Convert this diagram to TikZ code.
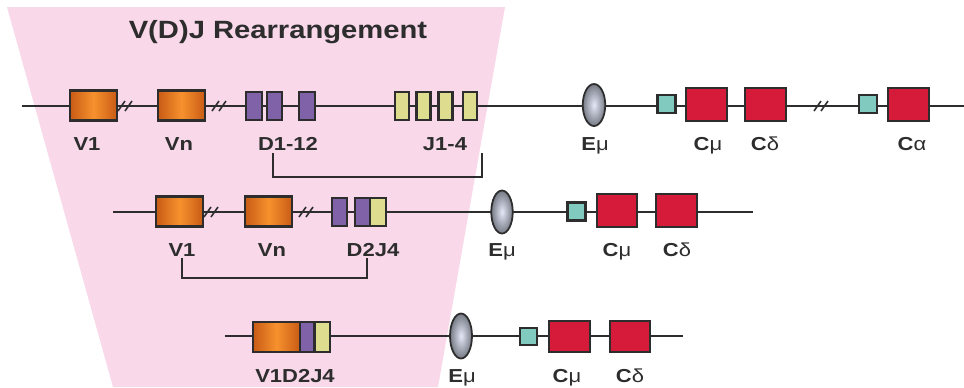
\documentclass[tikz,border=0pt]{standalone}
\usepackage{fontspec}
\setmainfont{Liberation Sans}[FakeStretch=1.17]
\usetikzlibrary{shapes.geometric}

\definecolor{pinkbg}{RGB}{248,216,233}
\definecolor{linecol}{RGB}{45,45,45}
\definecolor{orangeA}{RGB}{247,145,45}
\definecolor{orangeB}{RGB}{200,92,22}
\definecolor{dpurple}{RGB}{128,98,168}
\definecolor{jyellow}{RGB}{222,220,142}
\definecolor{cred}{RGB}{214,26,58}
\definecolor{steal}{RGB}{128,202,192}
\definecolor{enhin}{RGB}{228,232,248}
\definecolor{enhout}{RGB}{118,122,132}

\begin{document}
\begin{tikzpicture}[x=0.02cm, y=-0.02cm,
	dna/.style={linecol, line width=1pt},
	brk/.style={linecol, line width=0.9pt},
	seg/.style={draw=linecol, line width=1.3pt, inner sep=0pt, minimum height=0.6cm},
	vseg/.style={seg, minimum width=0.93cm, left color=orangeB, right color=orangeB, middle color=orangeA},
	dseg/.style={seg, fill=dpurple, minimum width=0.31cm, minimum height=0.57cm},
	jseg/.style={seg, fill=jyellow, minimum width=0.28cm, minimum height=0.57cm},
	cseg/.style={seg, fill=cred, minimum width=0.81cm, minimum height=0.65cm},
	sw/.style={seg, fill=steal, minimum size=0.36cm},
	enh/.style={ellipse, draw=linecol, line width=1pt, inner sep=0pt, minimum width=0.45cm, minimum height=0.84cm, inner color=enhin, outer color=enhout},
	lbl/.style={anchor=base, inner sep=0pt, text=linecol, font=\fontsize{10.7}{12}\selectfont\bfseries},
	bracket/.style={linecol, line width=1pt}]
	\useasboundingbox (0,0) rectangle (964,387);

	% Background
	\fill[pinkbg] (7,7) -- (505,7) -- (438,387) -- (113,387) -- cycle;
	\node[anchor=base, inner sep=0pt, text=linecol, font=\fontsize{14.2}{16}\selectfont\bfseries] (title) at (278,38) {V(D)J Rearrangement};

	% Germline locus
	\coordinate (r1a) at (22,106);
	\coordinate (r1b) at (964,106);
	\draw[dna] (r1a) -- (r1b);
	\foreach \x in {126,220,822} {
		\draw[brk] (\x-8,111) -- ++(7,-10);
		\draw[brk] (\x-1,111) -- ++(7,-10);
	}
	\node[vseg] (v1a) at (93.5,105.5) {};
	\node[vseg] (vna) at (181.5,105.5) {};
	\foreach \x [count=\i] in {254,274.5,307}
		\node[dseg] (d\i a) at (\x,106) {};
	\foreach \x [count=\i] in {402,423.5,445.5,470}
		\node[jseg] (j\i a) at (\x,106) {};
	\node[enh] (ema) at (594,105) {};
	\node[sw] (swa) at (666.5,104) {};
	\node[cseg] (cmua) at (706.5,104.5) {};
	\node[cseg] (cdela) at (765.5,104.5) {};
	\node[sw] (swb) at (868,104) {};
	\node[cseg] (calpha) at (908.5,104.5) {};

	\node[lbl] (lv1a) at (87,150) {V1};
	\node[lbl] (lvna) at (179,150) {Vn};
	\node[lbl] (ld) at (288,150) {D1-12};
	\node[lbl] (lj) at (445,150) {J1-4};
	\node[lbl] (lema) at (595,150) {E{\mdseries μ}};
	\node[lbl] (lcmua) at (708,150) {C{\mdseries μ}};
	\node[lbl] (lcdela) at (765,150) {C{\mdseries δ}};
	\node[lbl] (lcalpha) at (912,150) {C{\mdseries α}};

	\coordinate (k1a) at (273,153);
	\coordinate (k1b) at (482,153);
	\draw[bracket] (k1a) -- ++(0,24) -| (k1b);

	% D-J joined
	\coordinate (r2a) at (113,212);
	\coordinate (r2b) at (753,212);
	\draw[dna] (r2a) -- (r2b);
	\foreach \x in {212,307} {
		\draw[brk] (\x-8,217) -- ++(7,-10);
		\draw[brk] (\x-1,217) -- ++(7,-10);
	}
	\node[vseg] (v1b) at (179.5,211.5) {};
	\node[vseg] (vnb) at (268.5,211.5) {};
	\node[dseg] (d1b) at (339.5,212) {};
	\node[dseg, minimum width=0.3cm] (d2b) at (362.5,212) {};
	\node[jseg, minimum width=0.32cm] (j4b) at (378,212) {};
	\node[enh, minimum width=0.43cm, minimum height=0.86cm] (emb) at (502,212) {};
	\node[sw] (swc) at (576.5,211.5) {};
	\node[cseg] (cmub) at (617,210.5) {};
	\node[cseg] (cdelb) at (676.5,210.5) {};

	\node[lbl] (lv1b) at (182,256) {V1};
	\node[lbl] (lvnb) at (272,256) {Vn};
	\node[lbl] (ldj) at (373,256) {D2J4};
	\node[lbl] (lemb) at (502,256) {E{\mdseries μ}};
	\node[lbl] (lcmub) at (617,256) {C{\mdseries μ}};
	\node[lbl] (lcdelb) at (677,256) {C{\mdseries δ}};

	\coordinate (k2a) at (182,258);
	\coordinate (k2b) at (367,258);
	\draw[bracket] (k2a) -- ++(0,20) -| (k2b);

	% V-DJ joined
	\coordinate (r3a) at (225,336);
	\coordinate (r3b) at (683,336);
	\draw[dna] (r3a) -- (r3b);
	\node[vseg] (v1c) at (276.5,337) {};
	\node[dseg, minimum width=0.28cm, minimum height=0.6cm] (d2c) at (307,337) {};
	\node[jseg, minimum width=0.3cm, minimum height=0.6cm] (j4c) at (322.5,337) {};
	\node[enh, minimum width=0.44cm, minimum height=0.9cm] (emc) at (461,336) {};
	\node[sw, minimum size=0.33cm] (swd) at (528.5,336.5) {};
	\node[cseg, minimum height=0.62cm] (cmuc) at (569.5,336.5) {};
	\node[cseg, minimum height=0.62cm] (cdelc) at (630,336.5) {};

	\node[lbl] (lvdj) at (295,382) {V1D2J4};
	\node[lbl] (lemc) at (462,382) {E{\mdseries μ}};
	\node[lbl] (lcmuc) at (567,382) {C{\mdseries μ}};
	\node[lbl] (lcdelc) at (630,382) {C{\mdseries δ}};
\end{tikzpicture}
\end{document}
